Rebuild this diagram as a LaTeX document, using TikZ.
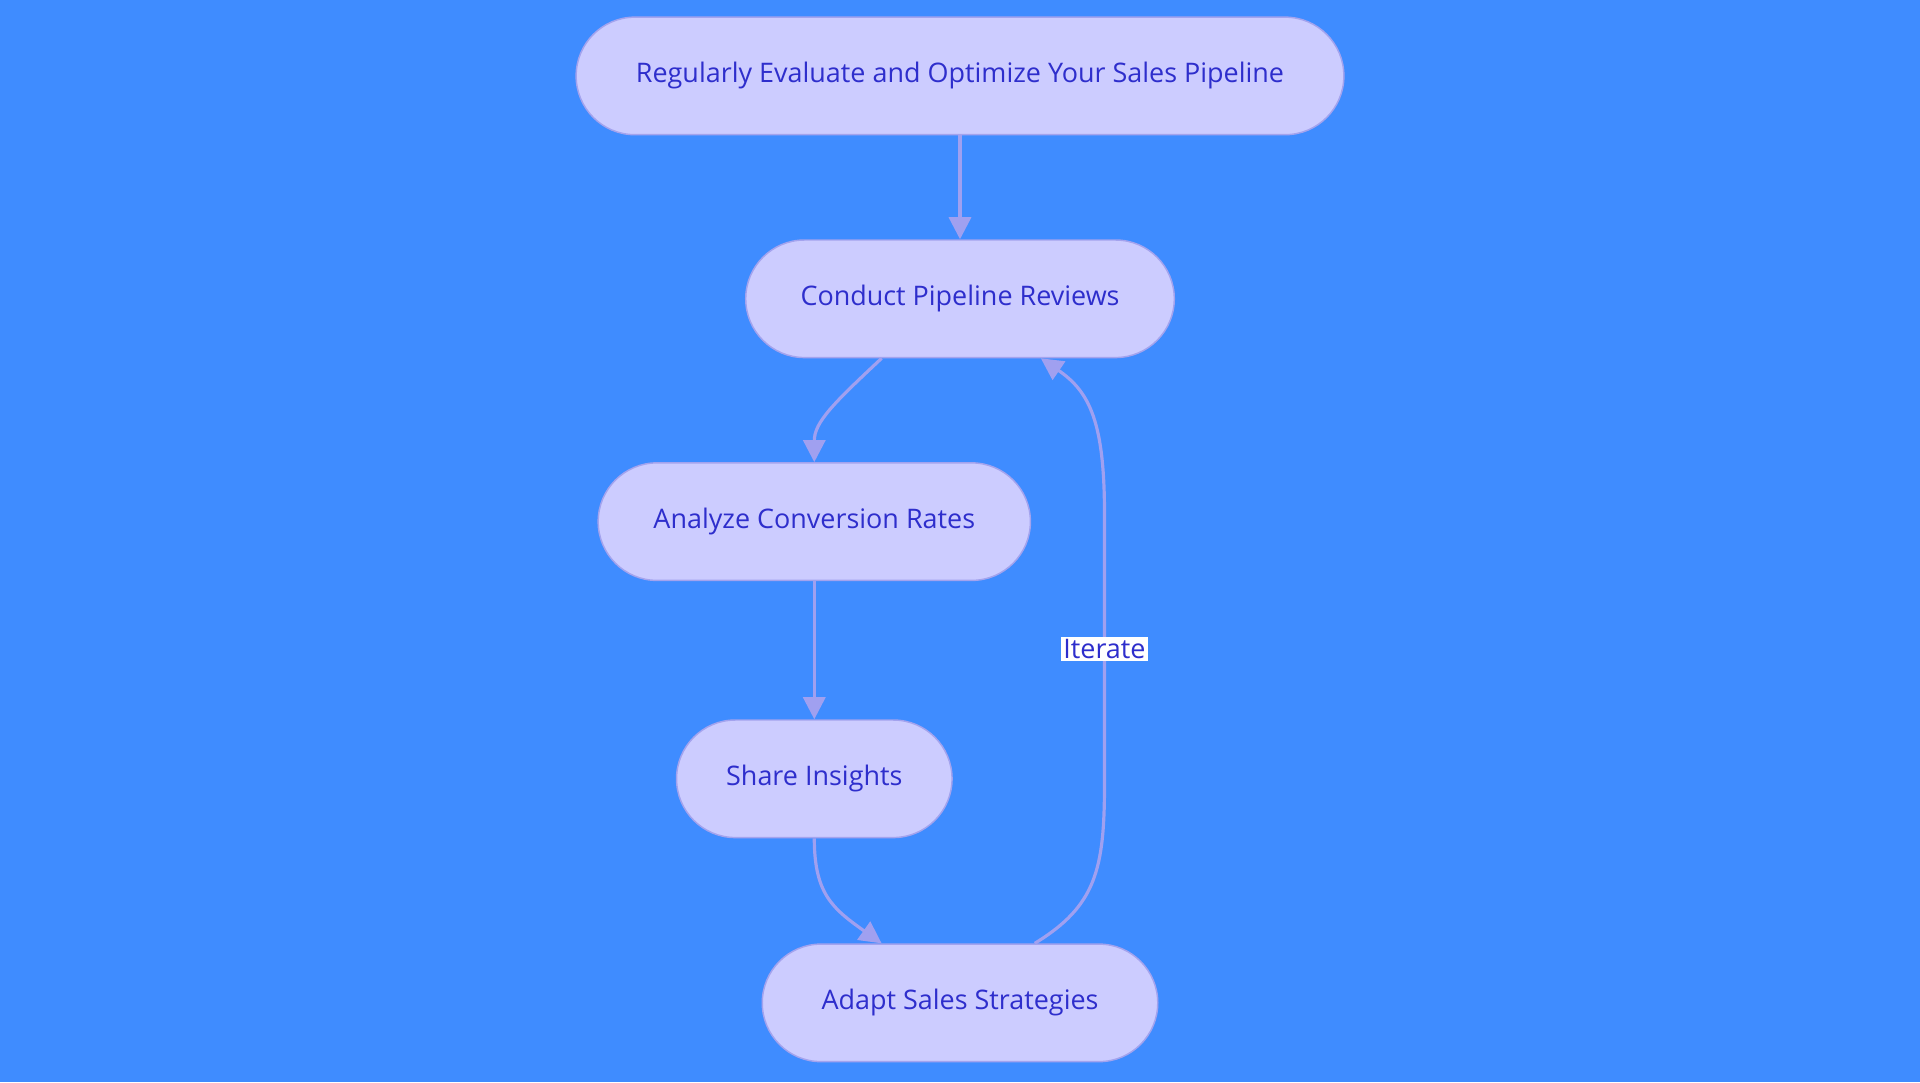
\documentclass[tikz,border=0pt]{standalone}
\usepackage{fontspec}
\setmainfont{Open Sans}
\usetikzlibrary{arrows.meta,calc}
\definecolor{bg}{HTML}{3F8CFF}
\definecolor{nf}{HTML}{CCCCFF}
\definecolor{nb}{HTML}{A3A3EE}
\definecolor{tx}{HTML}{2E2ECC}
\definecolor{ar}{HTML}{A0A0F0}
\begin{document}
\begin{tikzpicture}[x=0.5pt,y=-0.5pt,
  box/.style={draw=nb,line width=0.6pt,fill=nf,rounded corners=24pt,minimum height=48pt,text=tx,font=\fontsize{11pt}{13pt}\selectfont,inner sep=0pt},
  con/.style={draw=ar,line width=1.3pt,-{Triangle[length=9pt,width=9pt]}}]
\fill[bg] (0,0) rectangle (1568,884);
\node[box,minimum width=313.5pt] (a) at (784,62) {Regularly Evaluate and Optimize Your Sales Pipeline};
\node[box,minimum width=175pt] (b) at (784,244) {Conduct Pipeline Reviews};
\node[box,minimum width=176.5pt] (c) at (665,426) {Analyze Conversion Rates};
\node[box,minimum width=112.5pt] (d) at (665,636) {Share Insights};
\node[box,minimum width=161.5pt] (e) at (784,819) {Adapt Sales Strategies};
\draw[con] (a) -- (b);
\draw[con] ($(b.south)+(-64,0)$) .. controls (680,330) and (665,345) .. (c.north);
\draw[con] (c) -- (d);
\draw[con] (d.south) .. controls (665,730) and (680,742) .. ($(e.north)+(-64,0)$);
\draw[con] ($(e.north)+(61,0)$) .. controls (895,740) and (902,710) .. (902,640)
  -- node[fill=white,text=tx,inner sep=1pt,font=\fontsize{11pt}{13pt}\selectfont,pos=0.5] (it) {Iterate} (902,420)
  .. controls (902,345) and (890,320) .. ($(b.south)+(66,0)$);
\end{tikzpicture}
\end{document}
